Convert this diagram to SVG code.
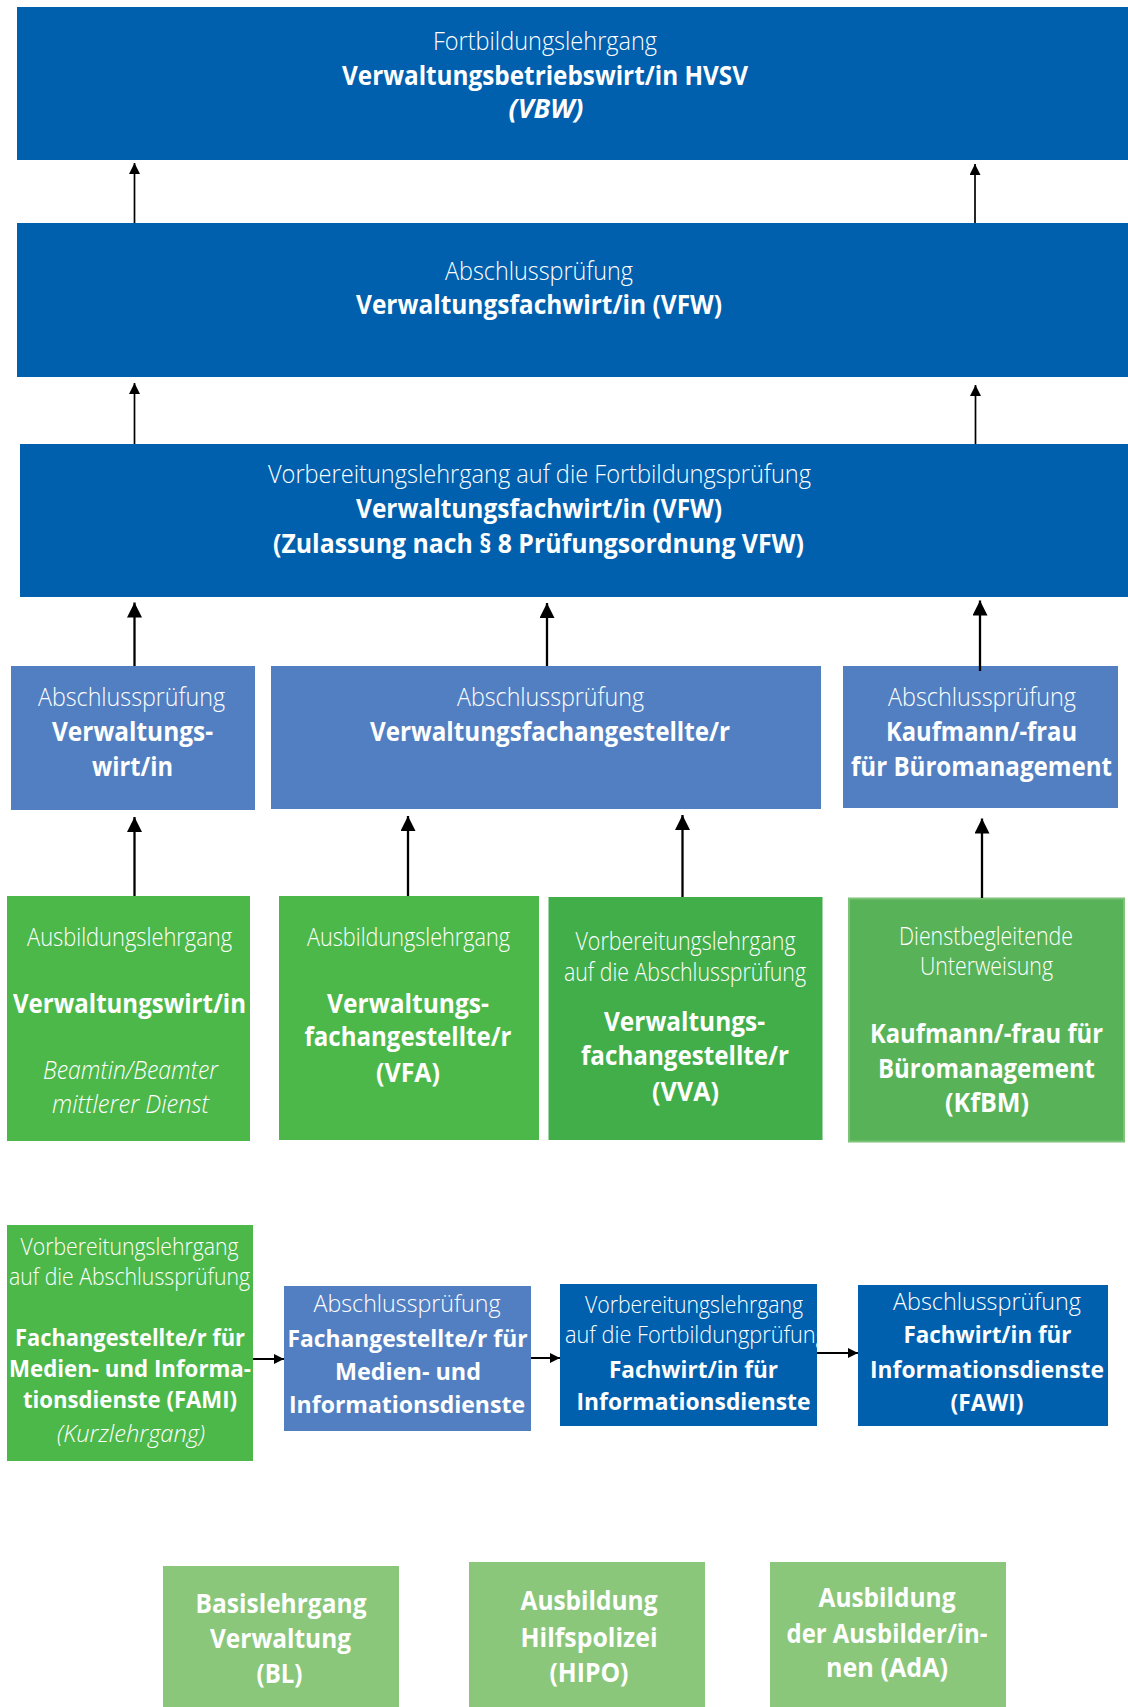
<svg xmlns="http://www.w3.org/2000/svg" width="1128" height="1707" viewBox="0 0 1128 1707">
<defs>
<style>
text{font-family:"Open Sans","Noto Sans","Liberation Sans",sans-serif;fill:#fff;text-anchor:middle}
.l{font-weight:300;font-size:26px}
.b{font-weight:700;font-size:27px}
.i{font-style:italic}
.s{font-size:24px}
.dk{fill:#0060ae}
.lb{fill:#527fc2}
.gr{fill:#4db84a}
.g3{fill:#41ae4a}
.g4{fill:#58b358;stroke:#7cc279;stroke-width:2}
.lg{fill:#8ac77b}
.c1{stroke:#000;stroke-width:1.7;fill:none;marker-end:url(#a1)}
.c2{stroke:#000;stroke-width:2.3;fill:none;marker-end:url(#a2)}
.c3{stroke:#000;stroke-width:2;fill:none;marker-end:url(#a3)}
</style>
<marker id="a1" viewBox="0 0 10 10" refX="10" refY="5" markerUnits="userSpaceOnUse" markerWidth="11" markerHeight="11" orient="auto"><path d="M0,0L10,5L0,10z" fill="#000"/></marker>
<marker id="a2" viewBox="0 0 10 10" refX="10" refY="5" markerUnits="userSpaceOnUse" markerWidth="15" markerHeight="15" orient="auto"><path d="M0,0L10,5L0,10z" fill="#000"/></marker>
<marker id="a3" viewBox="0 0 10 10" refX="10" refY="5" markerUnits="userSpaceOnUse" markerWidth="11" markerHeight="10" orient="auto"><path d="M0,0L10,5L0,10z" fill="#000"/></marker>
<clipPath id="clipD1"><rect x="560" y="1284" width="257" height="142"/></clipPath>
</defs>

<g id="vbw">
<rect class="dk" x="17" y="7" width="1111" height="153"/>
<text class="l" x="545" y="50" textLength="224" lengthAdjust="spacingAndGlyphs">Fortbildungslehrgang</text>
<text class="b" x="545" y="85" textLength="406" lengthAdjust="spacingAndGlyphs">Verwaltungsbetriebswirt/in HVSV</text>
<text class="b i" x="546" y="118" textLength="75" lengthAdjust="spacingAndGlyphs">(VBW)</text>
</g>

<g id="vfw-pruefung">
<rect class="dk" x="17" y="223" width="1111" height="154"/>
<text class="l" x="539" y="280" textLength="188" lengthAdjust="spacingAndGlyphs">Abschlussprüfung</text>
<text class="b" x="539" y="314" textLength="366" lengthAdjust="spacingAndGlyphs">Verwaltungsfachwirt/in (VFW)</text>
</g>

<g id="vfw-lehrgang">
<rect class="dk" x="20" y="444" width="1108" height="153"/>
<text class="l" x="539.5" y="483" textLength="543" lengthAdjust="spacingAndGlyphs">Vorbereitungslehrgang auf die Fortbildungsprüfung</text>
<text class="b" x="539" y="518" textLength="366" lengthAdjust="spacingAndGlyphs">Verwaltungsfachwirt/in (VFW)</text>
<text class="b" x="538.5" y="553" textLength="531" lengthAdjust="spacingAndGlyphs">(Zulassung nach § 8 Prüfungsordnung VFW)</text>
</g>

<g id="ap-vw">
<rect class="lb" x="11" y="666" width="244" height="144"/>
<text class="l" x="131.5" y="706" textLength="187" lengthAdjust="spacingAndGlyphs">Abschlussprüfung</text>
<text class="b" x="132.5" y="741" textLength="161" lengthAdjust="spacingAndGlyphs">Verwaltungs-</text>
<text class="b" x="132.5" y="776" textLength="81" lengthAdjust="spacingAndGlyphs">wirt/in</text>
</g>

<g id="ap-vfa">
<rect class="lb" x="271" y="666" width="550" height="143"/>
<text class="l" x="550.5" y="706" textLength="187" lengthAdjust="spacingAndGlyphs">Abschlussprüfung</text>
<text class="b" x="550" y="741" textLength="360" lengthAdjust="spacingAndGlyphs">Verwaltungsfachangestellte/r</text>
</g>

<g id="ap-kfbm">
<rect class="lb" x="843" y="666" width="275" height="142"/>
<text class="l" x="982" y="706" textLength="188" lengthAdjust="spacingAndGlyphs">Abschlussprüfung</text>
<text class="b" x="981.5" y="741" textLength="191" lengthAdjust="spacingAndGlyphs">Kaufmann/-frau</text>
<text class="b" x="981.5" y="776" textLength="261" lengthAdjust="spacingAndGlyphs">für Büromanagement</text>
</g>

<g id="al-vw">
<rect class="gr" x="7" y="896" width="243" height="245"/>
<text class="l" x="129.5" y="946" textLength="205" lengthAdjust="spacingAndGlyphs">Ausbildungslehrgang</text>
<text class="b" x="129.5" y="1012.5" textLength="233" lengthAdjust="spacingAndGlyphs">Verwaltungswirt/in</text>
<text class="l i" x="130.5" y="1078.5" textLength="175" lengthAdjust="spacingAndGlyphs">Beamtin/Beamter</text>
<text class="l i" x="130.5" y="1113" textLength="157" lengthAdjust="spacingAndGlyphs">mittlerer Dienst</text>
</g>

<g id="al-vfa">
<rect class="gr" x="279" y="896" width="260" height="244"/>
<text class="l" x="408.5" y="946" textLength="203" lengthAdjust="spacingAndGlyphs">Ausbildungslehrgang</text>
<text class="b" x="408" y="1012.5" textLength="162" lengthAdjust="spacingAndGlyphs">Verwaltungs-</text>
<text class="b" x="408" y="1046" textLength="207" lengthAdjust="spacingAndGlyphs">fachangestellte/r</text>
<text class="b" x="408" y="1082" textLength="64" lengthAdjust="spacingAndGlyphs">(VFA)</text>
</g>

<g id="vl-vva">
<rect class="g3" x="548.5" y="897" width="274" height="243"/>
<text class="l" x="685.5" y="950" textLength="220" lengthAdjust="spacingAndGlyphs">Vorbereitungslehrgang</text>
<text class="l" x="685" y="981" textLength="242" lengthAdjust="spacingAndGlyphs">auf die Abschlussprüfung</text>
<text class="b" x="684.5" y="1031" textLength="161" lengthAdjust="spacingAndGlyphs">Verwaltungs-</text>
<text class="b" x="685" y="1065" textLength="208" lengthAdjust="spacingAndGlyphs">fachangestellte/r</text>
<text class="b" x="685.5" y="1101" textLength="67" lengthAdjust="spacingAndGlyphs">(VVA)</text>
</g>

<g id="du-kfbm">
<rect class="g4" x="849" y="898.5" width="275" height="243"/>
<text class="l" x="986" y="944.5" textLength="174" lengthAdjust="spacingAndGlyphs">Dienstbegleitende</text>
<text class="l" x="986.5" y="975" textLength="133" lengthAdjust="spacingAndGlyphs">Unterweisung</text>
<text class="b" x="986.5" y="1043" textLength="233" lengthAdjust="spacingAndGlyphs">Kaufmann/-frau für</text>
<text class="b" x="986.5" y="1078" textLength="217" lengthAdjust="spacingAndGlyphs">Büromanagement</text>
<text class="b" x="987" y="1112" textLength="84" lengthAdjust="spacingAndGlyphs">(KfBM)</text>
</g>

<g id="vl-fami">
<rect class="gr" x="7" y="1225" width="246" height="236"/>
<text class="l s" x="129.5" y="1255" textLength="218" lengthAdjust="spacingAndGlyphs">Vorbereitungslehrgang</text>
<text class="l s" x="129.5" y="1285" textLength="241" lengthAdjust="spacingAndGlyphs">auf die Abschlussprüfung</text>
<text class="b s" x="130" y="1346" textLength="230" lengthAdjust="spacingAndGlyphs">Fachangestellte/r für</text>
<text class="b s" x="130" y="1377" textLength="242" lengthAdjust="spacingAndGlyphs">Medien- und Informa-</text>
<text class="b s" x="130" y="1408" textLength="214" lengthAdjust="spacingAndGlyphs">tionsdienste (FAMI)</text>
<text class="l s i" x="131" y="1442" textLength="148" lengthAdjust="spacingAndGlyphs">(Kurzlehrgang)</text>
</g>

<g id="ap-fami">
<rect class="lb" x="284" y="1286" width="247" height="145"/>
<text class="l s" x="407" y="1312" textLength="187" lengthAdjust="spacingAndGlyphs">Abschlussprüfung</text>
<text class="b s" x="407.5" y="1347" textLength="240" lengthAdjust="spacingAndGlyphs">Fachangestellte/r für</text>
<text class="b s" x="408" y="1380" textLength="146" lengthAdjust="spacingAndGlyphs">Medien- und</text>
<text class="b s" x="407" y="1413" textLength="236" lengthAdjust="spacingAndGlyphs">Informationsdienste</text>
</g>

<g id="vl-fawi">
<rect class="dk" x="560" y="1284" width="257" height="142"/>
<g clip-path="url(#clipD1)">
<text class="l s" x="694" y="1313" textLength="218" lengthAdjust="spacingAndGlyphs">Vorbereitungslehrgang</text>
<text class="l s" x="565" y="1343" style="text-anchor:start" textLength="262" lengthAdjust="spacingAndGlyphs">auf die Fortbildungprüfung</text>
</g>
<text class="b s" x="693.5" y="1378" textLength="169" lengthAdjust="spacingAndGlyphs">Fachwirt/in für</text>
<text class="b s" x="693.5" y="1410" textLength="234" lengthAdjust="spacingAndGlyphs">Informationsdienste</text>
</g>

<g id="ap-fawi">
<rect class="dk" x="858" y="1285" width="250" height="141"/>
<text class="l s" x="987" y="1310" textLength="188" lengthAdjust="spacingAndGlyphs">Abschlussprüfung</text>
<text class="b s" x="987.5" y="1343" textLength="168" lengthAdjust="spacingAndGlyphs">Fachwirt/in für</text>
<text class="b s" x="987" y="1378" textLength="234" lengthAdjust="spacingAndGlyphs">Informationsdienste</text>
<text class="b s" x="987" y="1411" textLength="73" lengthAdjust="spacingAndGlyphs">(FAWI)</text>
</g>

<g id="bl">
<rect class="lg" x="163" y="1566" width="236" height="141"/>
<text class="b" x="281" y="1613" textLength="171" lengthAdjust="spacingAndGlyphs">Basislehrgang</text>
<text class="b" x="280.5" y="1648" textLength="141" lengthAdjust="spacingAndGlyphs">Verwaltung</text>
<text class="b" x="279.5" y="1683" textLength="46" lengthAdjust="spacingAndGlyphs">(BL)</text>
</g>

<g id="hipo">
<rect class="lg" x="469" y="1562" width="236" height="145"/>
<text class="b" x="589" y="1610" textLength="137" lengthAdjust="spacingAndGlyphs">Ausbildung</text>
<text class="b" x="589" y="1646.5" textLength="137" lengthAdjust="spacingAndGlyphs">Hilfspolizei</text>
<text class="b" x="589" y="1681.5" textLength="79" lengthAdjust="spacingAndGlyphs">(HIPO)</text>
</g>

<g id="ada">
<rect class="lg" x="770" y="1562" width="236" height="145"/>
<text class="b" x="887" y="1606.5" textLength="137" lengthAdjust="spacingAndGlyphs">Ausbildung</text>
<text class="b" x="887" y="1643" textLength="201" lengthAdjust="spacingAndGlyphs">der Ausbilder/in-</text>
<text class="b" x="887" y="1676.5" textLength="122" lengthAdjust="spacingAndGlyphs">nen (AdA)</text>
</g>

<g id="connectors">
<line class="c1" x1="134.5" y1="223" x2="134.5" y2="163"/>
<line class="c1" x1="975" y1="223" x2="975" y2="164"/>
<line class="c1" x1="134.5" y1="444" x2="134.5" y2="383"/>
<line class="c1" x1="975.5" y1="444" x2="975.5" y2="385"/>
<line class="c2" x1="134.5" y1="666" x2="134.5" y2="602.5"/>
<line class="c2" x1="547" y1="666" x2="547" y2="603"/>
<line class="c2" x1="980" y1="671" x2="980" y2="600.5"/>
<line class="c2" x1="134.5" y1="896" x2="134.5" y2="817"/>
<line class="c2" x1="408" y1="896" x2="408" y2="816"/>
<line class="c2" x1="682.5" y1="897" x2="682.5" y2="815"/>
<line class="c2" x1="982" y1="898" x2="982" y2="818.5"/>
<line class="c3" x1="253" y1="1359" x2="284" y2="1359"/>
<line class="c3" x1="531" y1="1358" x2="560" y2="1358"/>
<line class="c3" x1="817" y1="1353" x2="858" y2="1353"/>
</g>
</svg>
